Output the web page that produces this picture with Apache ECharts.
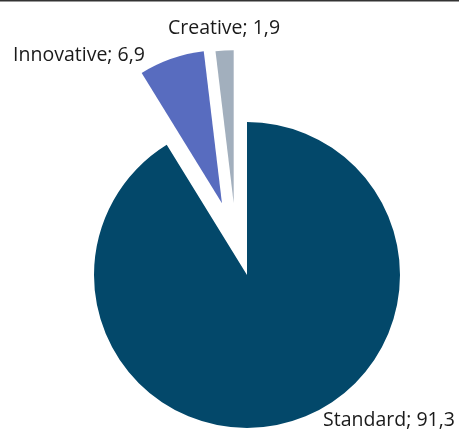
<!DOCTYPE html>
<html><head><meta charset="utf-8">
<script src="https://cdn.jsdelivr.net/npm/echarts@6/dist/echarts.min.js"></script>
<style>html,body{margin:0;padding:0;background:#fff}#c{width:459px;height:430px}</style>
</head><body><div id="c"></div>
<script>
const categories = ["Standard", "Innovative", "Creative"];
const values = [91.3, 6.9, 1.9];
const exploded = [false, true, true];
const colors = ["#03486a", "#586cbf", "#a2afbd"];
const labelPos = [[389, 420], [79, 55], [224, 28]];

const fmt = p => p.name + '; ' + String(p.value).replace('.', ',');

function makeData(visibleSet, sel) {
  return categories.map((c, i) => ({
    name: c, value: values[i], selected: sel && exploded[i],
    itemStyle: {color: visibleSet.includes(i) ? colors[i] : 'rgba(0,0,0,0)'}
  }));
}

const common = {
  type: 'pie', radius: 153, startAngle: 90, clockwise: true,
  selectedMode: 'multiple', emphasis: {disabled: true}, avoidLabelOverlap: false,
  label: {show: false}, labelLine: {show: false}
};

const chart = echarts.init(document.getElementById('c'));
chart.setOption({
  animation: false,
  graphic: [{type: 'line', shape: {x1: 0, y1: 0.5, x2: 459, y2: 0.5}, style: {stroke: '#333', lineWidth: 2}}],
  series: [
    Object.assign({}, common, {center: [247, 275], selectedOffset: 76, data: makeData([0, 1], true)}),
    Object.assign({}, common, {center: [238, 275], selectedOffset: 72, data: makeData([2], true)}),
    Object.assign({}, common, {
      center: [247, 275], silent: true, selectedMode: false, data: makeData([], false),
      label: {show: true, position: 'outside', alignTo: 'none', overflow: 'none', formatter: fmt,
              fontFamily: 'Open Sans', fontSize: 19.5, color: '#1a1a1a'},
      labelLayout: p => ({x: labelPos[p.dataIndex][0], y: labelPos[p.dataIndex][1], align: 'center', verticalAlign: 'middle'})
    })
  ]
});
</script></body></html>
